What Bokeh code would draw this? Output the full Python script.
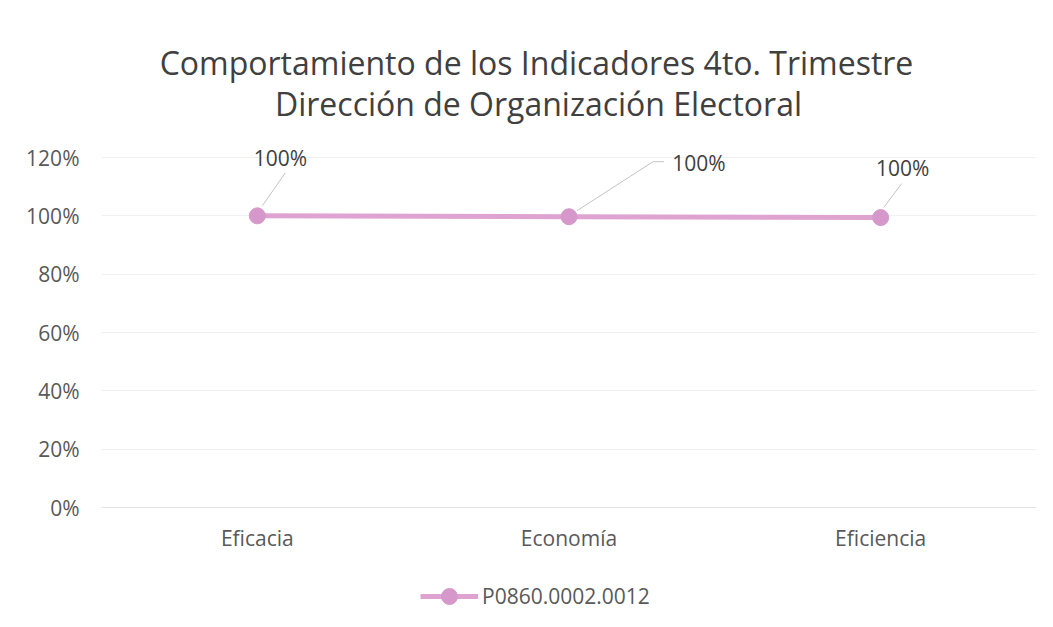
from bokeh.plotting import figure
from bokeh.models import (ColumnDataSource, FixedTicker, NumeralTickFormatter, Legend,
                          LegendItem, Label, LabelSet)
from bokeh.core.properties import value
from bokeh.embed import file_html
from bokeh.resources import INLINE

# ---------------- data ----------------
categories = ["Eficacia", "Economía", "Eficiencia"]
values = [1.0, 0.997, 0.994]
label_texts = ["100%", "100%", "100%"]
series_name = "P0860.0002.0012"
y_ticks = [0, 0.2, 0.4, 0.6, 0.8, 1.0, 1.2]
title_lines = ["Comportamiento de los Indicadores 4to. Trimestre",
               "Dirección de Organización Electoral"]

# ---------------- style ----------------
FONT = "Open Sans"
W, H = 1037, 611
LEFT, RIGHT = 101, 1
PLOT_TOP, PLOT_BOTTOM = 157, 507      # pixel rows of 120% and 0%
Y_MAX = 1.2
px_x = (W - LEFT - RIGHT) / len(categories)   # pixels per category
px_y = (PLOT_BOTTOM - PLOT_TOP) / Y_MAX       # pixels per unit of y
y_lo = -(H - PLOT_BOTTOM) / px_y
y_hi = Y_MAX + PLOT_TOP / px_y
LINE_COLOR = "#DEA3D1"
MARK_COLOR = "#D698CA"
TEXT_COLOR = "#595959"
TITLE_COLOR = "#404040"

# label offsets (pixels, right / up) from each point
label_dx = [23, 130, 22]
label_up = [58, 54, 50]
# leader lines: polylines per point as (dx, up) pixel pairs
leaders = [
    [(5, 10), (28, 43)],
    [(8, 6), (84, 55), (95, 55)],
    [(3, 10), (21, 34)],
]
# title line centres in pixels (x from plot left, up from the 120% line)
title_pos = [(435, 95), (437, 54)]

p = figure(x_range=categories, y_range=(y_lo, y_hi), width=W, height=H,
           output_backend="svg", toolbar_location=None,
           min_border_left=LEFT, min_border_right=RIGHT,
           min_border_top=0, min_border_bottom=0)

for txt, (tx, tu) in zip(title_lines, title_pos):
    p.add_layout(Label(x=tx / px_x, y=Y_MAX + tu / px_y, text=txt,
                       text_align="center", text_baseline="middle",
                       text_font=FONT, text_font_size="32px",
                       text_color=TITLE_COLOR))

src = ColumnDataSource(dict(cat=categories, val=values, lab=label_texts,
                            dx=label_dx, dy=label_up))

# leader lines
x0, y0, x1, y1 = [], [], [], []
for i, pts in enumerate(leaders):
    base_x = i + 0.5
    for (ax, au), (bx, bu) in zip(pts[:-1], pts[1:]):
        x0.append(base_x + ax / px_x)
        y0.append(values[i] + au / px_y)
        x1.append(base_x + bx / px_x)
        y1.append(values[i] + bu / px_y)
p.segment(x0=x0, y0=y0, x1=x1, y1=y1, line_color="#C4C4C4", line_width=1)

line_r = p.line("cat", "val", source=src, line_color=LINE_COLOR, line_width=5)
mark_r = p.scatter("cat", "val", source=src, size=16, fill_color=MARK_COLOR,
                   line_color=MARK_COLOR)

labels = LabelSet(x="cat", y="val", text="lab", source=src, x_offset="dx", y_offset="dy",
                  text_align="center", text_baseline="middle", text_font=value(FONT),
                  text_font_size="21px", text_color=TITLE_COLOR)
p.add_layout(labels)

# axes
p.yaxis.ticker = FixedTicker(ticks=y_ticks)
p.yaxis.formatter = NumeralTickFormatter(format="0%")
p.yaxis.axis_line_color = None
p.yaxis.major_tick_line_color = None
p.yaxis.minor_tick_line_color = None
p.yaxis.major_label_standoff = 16
p.xaxis.fixed_location = 0
p.xaxis.axis_line_color = "#E3E3E3"
p.xaxis.major_tick_line_color = None
p.xaxis.minor_tick_line_color = None
p.xaxis.major_label_standoff = 10
for ax in (p.xaxis, p.yaxis):
    ax.major_label_text_font = FONT
    ax.major_label_text_font_size = "21px"
    ax.major_label_text_color = TEXT_COLOR

p.xgrid.grid_line_color = None
p.ygrid.grid_line_color = "#F0F0F0"
p.outline_line_color = None

legend = Legend(items=[LegendItem(label=series_name, renderers=[line_r, mark_r])],
                location=(319, -5), orientation="horizontal",
                glyph_width=58, glyph_height=40, label_standoff=4,
                padding=0, margin=0, border_line_color=None,
                background_fill_alpha=0,
                label_text_font=FONT, label_text_font_size="21px",
                label_text_color=TEXT_COLOR)
p.add_layout(legend)

open("out.html", "w").write(file_html(p, INLINE))
